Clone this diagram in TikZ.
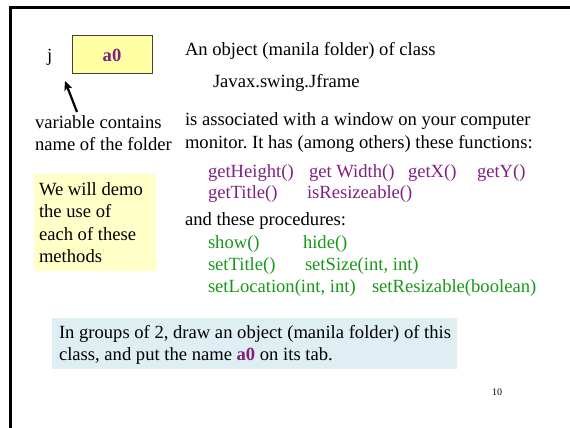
\documentclass[tikz,border=0pt]{standalone}
\usepackage{fontspec}
\setmainfont{Liberation Serif}
\usetikzlibrary{arrows.meta}
\frenchspacing
\definecolor{fnpurple}{RGB}{128,32,128}
\definecolor{prgreen}{RGB}{24,152,24}
\definecolor{tabyellow}{RGB}{255,255,164}
\definecolor{noteyellow}{RGB}{255,255,200}
\definecolor{taskblue}{RGB}{222,238,242}
\newcommand{\bodyfs}{\fontsize{18.6}{22.5}\selectfont}
\tikzset{
  txt/.style={anchor=base west, inner sep=0pt, outer sep=0pt, font=\bodyfs},
  fn/.style={txt, text=fnpurple},
  pr/.style={txt, text=prgreen},
}
\begin{document}
\begin{tikzpicture}[x=1pt,y=-1pt]
\useasboundingbox (0,0) rectangle (570,428);
% slide frame (partly cut)
\draw[line width=2.2pt] (10.5,430) -- (10.5,7.5) -- (572,7.5);
% variable j and its tab
\node[txt] (j) at (47,62) {j};
\draw[draw=black!75, fill=tabyellow, line width=0.8pt] (72,35) rectangle (152,73);
\node[anchor=base, inner sep=0pt, font=\bodyfs\bfseries, text=fnpurple] (tab) at (112,62) {a0};
\coordinate (tail) at (77,112);
\coordinate (tip) at (65,81);
\draw[line width=2.2pt, -{Stealth[length=9pt,width=8pt,inset=2pt]}] (tail) -- (tip);
\node[txt] (var1) at (35,128) {variable contains};
\node[txt] (var2) at (35,150) {name of the folder};
% note box
\fill[noteyellow] (34,174) rectangle (156,271);
\node[txt] (n1) at (39,195) {We will demo};
\node[txt] (n2) at (39,217) {the use of};
\node[txt] (n3) at (39,240) {each of these};
\node[txt] (n4) at (39,262) {methods};
% right text
\node[txt] (r1) at (185,56) {An object (manila folder) of class};
\node[txt] (r2) at (213,88) {Javax.swing.Jframe};
\node[txt] (r3) at (185,125) {is associated with a window on your computer};
\node[txt] (r4) at (185,148) {monitor. It has (among others) these functions:};
\node[fn] (f1) at (208,177) {getHeight()};
\node[fn] (f2) at (309,177) {get Width()};
\node[fn] (f3) at (408,177) {getX()};
\node[fn] (f4) at (477,177) {getY()};
\node[fn] (f5) at (208,198) {getTitle()};
\node[fn] (f6) at (307,198) {isResizeable()};
\node[txt] (r5) at (185,225) {and these procedures:};
\node[pr] (p1) at (208,248) {show()};
\node[pr] (p2) at (303,248) {hide()};
\node[pr] (p3) at (208,270) {setTitle()};
\node[pr] (p4) at (305,270) {setSize(int, int)};
\node[pr] (p5) at (208,292) {setLocation(int, int)};
\node[pr] (p6) at (372,292) {setResizable(boolean)};
% task box
\fill[taskblue] (52,318) rectangle (457,369);
\node[txt] (t1) at (59,338) {In groups of 2, draw an object (manila folder) of this};
\node[txt] (t2) at (59,360) {class, and put the name \textcolor{fnpurple}{\bfseries a0} on its tab.};
% page number
\node[anchor=base, inner sep=0pt, font=\fontsize{10}{12}\selectfont] (pg) at (497,395) {10};
\end{tikzpicture}
\end{document}
